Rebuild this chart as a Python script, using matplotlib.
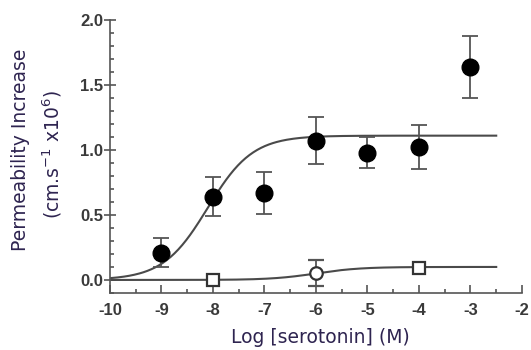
import numpy as np
import matplotlib
matplotlib.use("Agg")
import matplotlib.pyplot as plt
from matplotlib.ticker import MultipleLocator

# serotonin data (log M)
x_filled = [-9, -8, -7, -6, -5, -4, -3]
y_filled = [0.21, 0.64, 0.67, 1.07, 0.98, 1.02, 1.64]
err_filled = [0.11, 0.15, 0.16, 0.18, 0.12, 0.17, 0.24]

x_open_sq = [-8, -4]
y_open_sq = [0.0, 0.09]
err_open_sq = [0.02, 0.02]
x_open_circ = [-6]
y_open_circ = [0.05]
err_open_circ = [0.10]

# fitted curves: top, logEC50, hill
fit_filled = (1.11, -8.1, 1.0)
fit_open = (0.10, -6.0, 1.0)
fit_range = (-10, -2.5)

xtick_vals = [-10, -9, -8, -7, -6, -5, -4, -3, -2]
ytick_vals = [0.0, 0.5, 1.0, 1.5, 2.0]

txt_col = '#2e2450'
line_col = '#4a4a4a'


def hill(x, top, logec50, n):
    return top / (1 + 10 ** ((logec50 - x) * n))


fig = plt.figure(figsize=(5.31, 3.5), dpi=100)
ax = fig.add_axes([0.207, 0.163, 0.776, 0.78])

xs = np.linspace(fit_range[0], fit_range[1], 300)
ax.plot(xs, hill(xs, *fit_filled), color=line_col, lw=1.5, zorder=2)
ax.plot(xs, hill(xs, *fit_open), color=line_col, lw=1.5, zorder=2)

ax.errorbar(x_filled, y_filled, yerr=err_filled, fmt='o', color='black',
            ms=12, ecolor='#555555', elinewidth=1.3, capsize=6, capthick=1.3, zorder=3)
ax.errorbar(x_open_sq, y_open_sq, yerr=err_open_sq, fmt='s', mfc='white',
            mec='#333333', mew=1.6, ms=8, ecolor='#555555', elinewidth=1.3,
            capsize=5, capthick=1.3, zorder=3)
ax.errorbar(x_open_circ, y_open_circ, yerr=err_open_circ, fmt='o', mfc='white',
            mec='#333333', mew=1.6, ms=9, ecolor='#555555', elinewidth=1.3,
            capsize=6, capthick=1.3, zorder=3)

ax.set_xlim(-10, -2)
ax.set_ylim(-0.1, 2.0)
ax.set_xticks(xtick_vals)
ax.set_xticklabels([str(v) for v in xtick_vals])
ax.xaxis.set_minor_locator(MultipleLocator(0.5))
ax.set_yticks(ytick_vals)
ax.set_yticklabels(['%.1f' % v for v in ytick_vals])
ax.yaxis.set_minor_locator(MultipleLocator(0.1))

for s in ['top', 'right']:
    ax.spines[s].set_visible(False)
for s in ['left', 'bottom']:
    ax.spines[s].set_color('#555555')
    ax.spines[s].set_linewidth(1.2)

ax.tick_params(axis='x', which='major', direction='in', length=6, width=1.2,
               color='#555555', pad=7)
ax.tick_params(axis='x', which='minor', direction='in', length=3, width=1.2,
               color='#555555')
ax.tick_params(axis='y', which='major', direction='inout', length=8, width=1.2,
               color='#555555', pad=1)
ax.tick_params(axis='y', which='minor', direction='in', length=3, width=1.2,
               color='#555555')
for lab in ax.get_xticklabels() + ax.get_yticklabels():
    lab.set_fontfamily('Liberation Sans')
    lab.set_fontweight('bold')
    lab.set_fontsize(12)
    lab.set_color('#3a3a3a')

fig.text(0.603, 0.037, 'Log [serotonin] (M)', fontsize=13.5, family='DejaVu Sans',
         color=txt_col, ha='center', va='center')
fig.text(0.038, 0.571, 'Permeability Increase', fontsize=13.5, family='DejaVu Sans',
         color=txt_col, ha='center', va='center', rotation=90)
fig.text(0.098, 0.56, '(cm.s$^{-1}$ x10$^{6}$)', fontsize=13.5, family='DejaVu Sans',
         color=txt_col, ha='center', va='center', rotation=90)

fig.savefig('out.png', dpi=100)
